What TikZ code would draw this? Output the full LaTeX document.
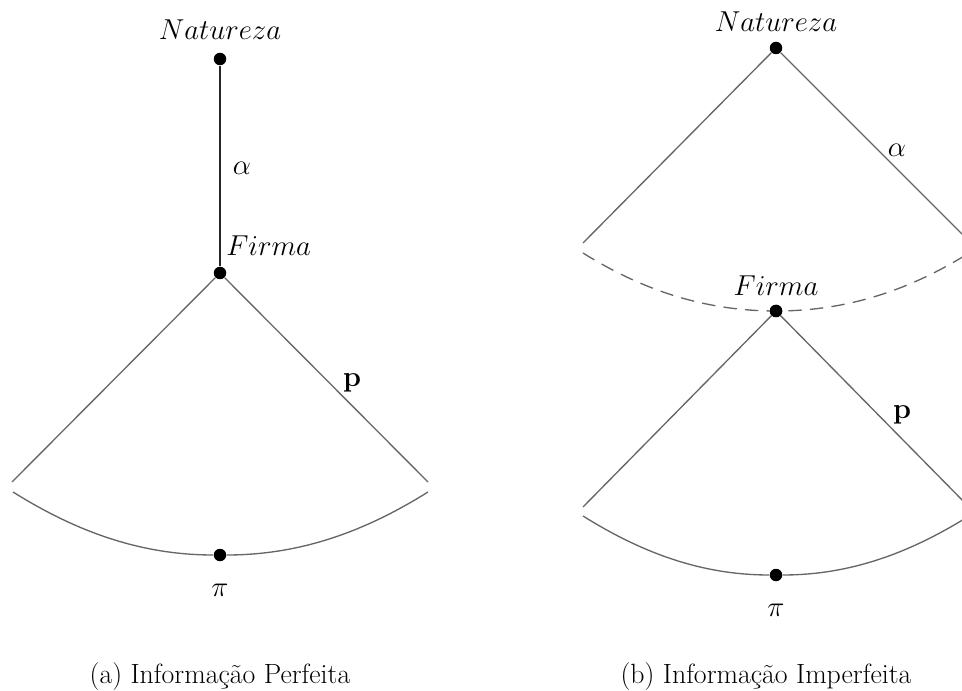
\documentclass[tikz,border=0pt]{standalone}
\usepackage{amsmath,amssymb}
\usepackage{tikz}

\tikzset{
  dot/.style={circle,fill=black,inner sep=0pt,minimum size=7.5pt},
  ramo/.style={black!60,line width=0.8pt},
  rotulo/.style={inner sep=0pt,font=\fontsize{18}{21}\selectfont},
  legenda/.style={inner sep=0pt,anchor=base,font=\fontsize{16.7}{20}\selectfont},
}

\begin{document}
\begin{tikzpicture}[x=0.6pt,y=0.6pt]
  \useasboundingbox (0,0) rectangle (962,690);
  \clip (0,0) rectangle (962,690);

  % (a) informacao perfeita
  \node[dot] (nat1) at (220,631) {};
  \node[dot] (firm1) at (220,417) {};
  \node[dot] (pi1) at (220,135) {};
  \coordinate (l1) at (12,208);
  \coordinate (r1) at (428,208);
  \coordinate (a1) at (13,198);
  \coordinate (b1) at (428,198);
  \draw[black!85,line width=1.2pt] (nat1) -- (firm1);
  \draw[ramo] (firm1) -- (l1);
  \draw[ramo] (firm1) -- (r1);
  \draw[ramo] (a1) to[out=-32,in=180,looseness=0.9] (pi1) to[out=0,in=212,looseness=0.9] (b1);
  \node[rotulo] (natlab1) at (220,660) {$Natureza$};
  \node[rotulo,anchor=west] (firmlab1) at (226,444) {$Firma$};
  \node[rotulo] (alfa1) at (242,522) {$\alpha$};
  \node[rotulo] (p1) at (352,307) {$\mathbf{p}$};
  \node[rotulo] (pilab1) at (220,100) {$\pi$};
  \node[legenda] (cap1) at (220,7) {(a) Informação Perfeita};

  % (b) informacao imperfeita
  \node[dot] (nat2) at (776,642) {};
  \node[dot] (firm2) at (776,379) {};
  \node[dot] (pi2) at (776,115) {};
  \coordinate (l2) at (583,447);
  \coordinate (r2) at (969,449);
  \coordinate (a2) at (583,437);
  \coordinate (b2) at (969,437);
  \coordinate (l3) at (583,183);
  \coordinate (r3) at (969,183);
  \coordinate (a3) at (583,174);
  \coordinate (b3) at (969,174);
  \draw[ramo] (nat2) -- (l2);
  \draw[ramo] (nat2) -- (r2);
  \draw[ramo,dashed,dash pattern=on 8pt off 5pt] (a2) to[out=-32,in=180,looseness=0.9] (firm2.center) to[out=0,in=212,looseness=0.9] (b2);
  \draw[ramo] (firm2) -- (l3);
  \draw[ramo] (firm2) -- (r3);
  \draw[ramo] (a3) to[out=-32,in=180,looseness=0.9] (pi2) to[out=0,in=212,looseness=0.9] (b3);
  \node[dot] at (firm2) {};
  \node[rotulo] (natlab2) at (776,668) {$Natureza$};
  \node[rotulo] (firmlab2) at (776,404) {$Firma$};
  \node[rotulo] (alfa2) at (897,540) {$\alpha$};
  \node[rotulo] (p2) at (902,275) {$\mathbf{p}$};
  \node[rotulo] (pilab2) at (776,80) {$\pi$};
  \node[legenda] (cap2) at (766,7) {(b) Informação Imperfeita};
\end{tikzpicture}
\end{document}
